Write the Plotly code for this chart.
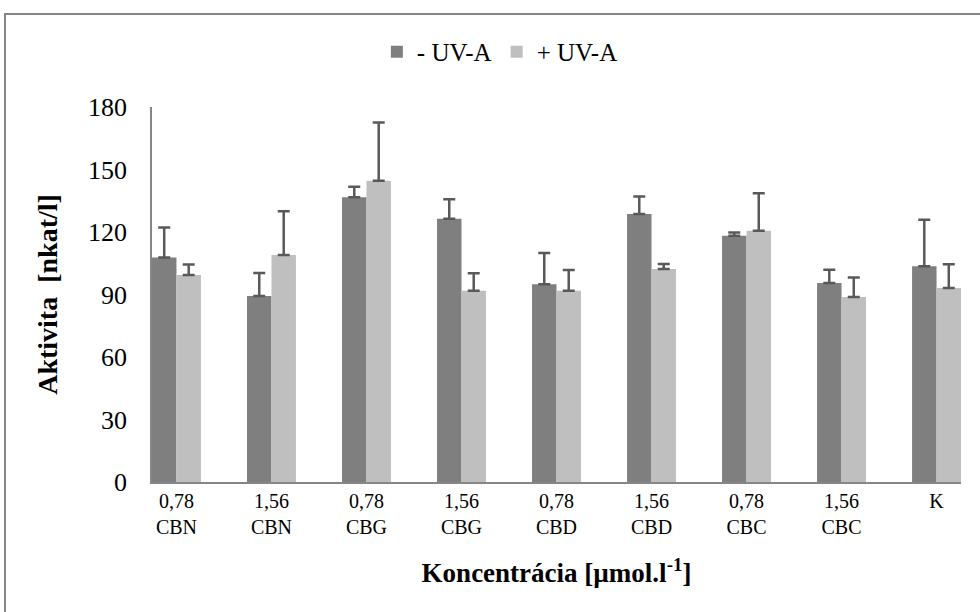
import plotly.graph_objects as go

categories = ["0,78<br>CBN", "1,56<br>CBN", "0,78<br>CBG", "1,56<br>CBG", "0,78<br>CBD",
              "1,56<br>CBD", "0,78<br>CBC", "1,56<br>CBC", "K"]
minus_uva = [107.7, 89.3, 136.7, 126.4, 94.9, 128.6, 118.2, 95.5, 103.5]
minus_uva_err = [14.5, 11.0, 5.0, 9.3, 15.0, 8.4, 1.6, 6.4, 22.4]
plus_uva = [99.4, 109.0, 144.6, 91.8, 91.8, 102.2, 120.6, 88.8, 93.1]
plus_uva_err = [5.0, 21.0, 28.0, 8.4, 10.0, 2.4, 18.0, 9.4, 11.4]
y_ticks = [0, 30, 60, 90, 120, 150, 180]

FONT = "Liberation Serif, Times New Roman, Times, serif"
ERR = dict(type="data", symmetric=False, color="#595959", thickness=2.5, width=6)

fig = go.Figure()
fig.add_trace(go.Bar(name="- UV-A", x=categories, y=minus_uva, marker_color="#7f7f7f",
                     marker_line_width=0,
                     error_y=dict(ERR, array=minus_uva_err, arrayminus=[0] * len(minus_uva))))
fig.add_trace(go.Bar(name="+ UV-A", x=categories, y=plus_uva, marker_color="#bfbfbf",
                     marker_line_width=0,
                     error_y=dict(ERR, array=plus_uva_err, arrayminus=[0] * len(plus_uva))))

fig.update_layout(
    width=980, height=612,
    margin=dict(l=152, r=19, t=107, b=130),
    paper_bgcolor="white", plot_bgcolor="white",
    barmode="group", bargap=0.485, bargroupgap=0,
    font=dict(family=FONT, color="#000000"),
    showlegend=True,
    legend=dict(orientation="h", x=0.43, y=1.147, xanchor="center", yanchor="middle",
                font=dict(family=FONT, size=25, color="#000000"), itemwidth=30,
                traceorder="normal"),
    xaxis=dict(type="category", range=[-0.2575, 8.2575], showline=True, linecolor="#868686",
               linewidth=2, ticks="", showgrid=False, zeroline=False,
               tickfont=dict(family=FONT, size=20, color="#000000"),
               title=dict(text="<b>Koncentrácia [µmol.l<sup>-1</sup>]</b>",
                          font=dict(family=FONT, size=27, color="#000000"), standoff=26)),
    yaxis=dict(range=[0, 180], tickvals=y_ticks, showline=True, linecolor="#868686",
               linewidth=1.5, ticks="", showgrid=False, zeroline=False,
               tickfont=dict(family=FONT, size=26, color="#000000"),
               ticklabelstandoff=18,
               title=dict(text="<b>Aktivita  [nkat/l]</b>",
                          font=dict(family=FONT, size=28, color="#000000"), standoff=22)),
    shapes=[dict(type="rect", xref="paper", yref="paper",
                 x0=-0.1817, x1=1.04, y0=-0.4, y1=1.248,
                 line=dict(color="#868686", width=2), fillcolor="rgba(0,0,0,0)", layer="below")],
)

fig.write_html("out.html")
